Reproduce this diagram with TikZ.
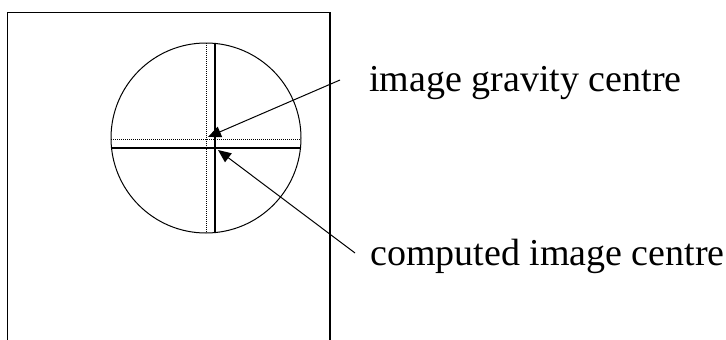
\documentclass[tikz,border=0pt]{standalone}
\usepackage{fontspec}
\setmainfont{Liberation Serif}
\usetikzlibrary{arrows.meta}

\tikzstyle{caption} = [anchor=base west, inner sep=0pt, font=\fontsize{38}{44}\selectfont]
\tikzstyle{pointer} = [-{Triangle[length=13pt,width=11pt]}, line width=1pt]

\begin{document}
\begin{tikzpicture}[x=1pt,y=-1pt]
\useasboundingbox (0,0) rectangle (726,340);
\draw[line width=1.8pt] (7.5,340) -- (7.5,12.5) -- (330,12.5) -- (330,340);
\draw[line width=1pt] (206,138) circle (95);
\draw[line width=1.4pt] (215,43) -- (215,233);
\draw[line width=1.4pt] (111,148) -- (301,148);
\draw[line width=1pt, densely dotted] (206,43) -- (206,233);
\draw[line width=1pt, densely dotted] (111,139) -- (301,139);
\coordinate (gc) at (208,137);
\coordinate (cc) at (218,150);
\coordinate (gtail) at (340,80);
\coordinate (ctail) at (355,253);
\node[caption] (grav) at (369,91) {image gravity centre};
\node[caption] (comp) at (370,265) {computed image centre};
\draw[pointer] (gtail) -- (gc);
\draw[pointer] (ctail) -- (cc);
\end{tikzpicture}
\end{document}
